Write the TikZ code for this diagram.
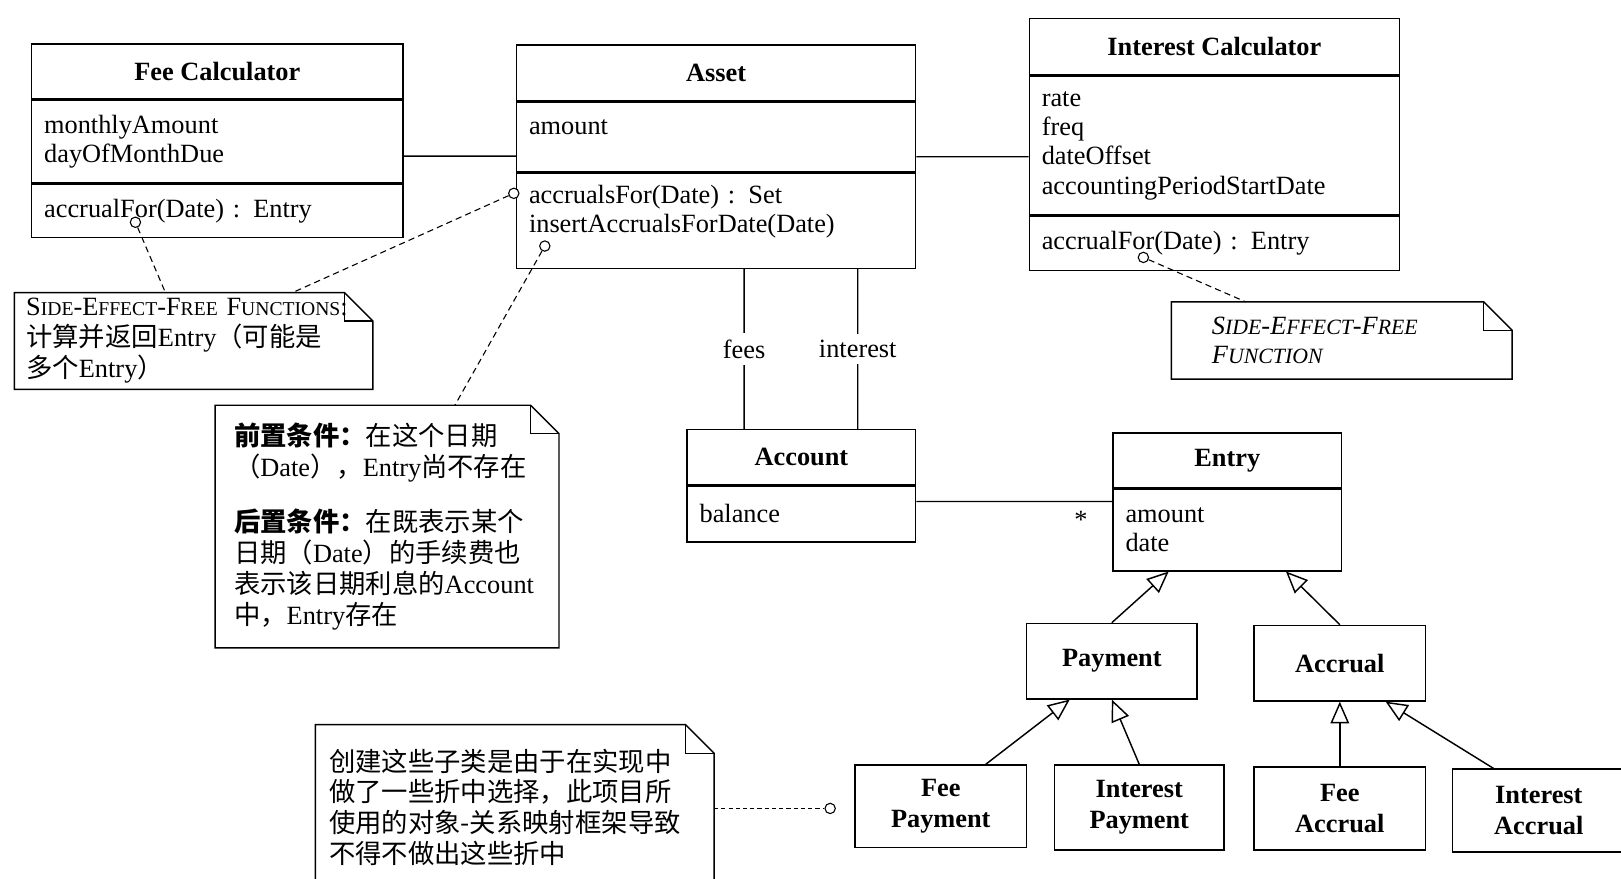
\documentclass[tikz,border=0pt]{standalone}
\usepackage{fontspec}
\setmainfont{Liberation Serif}
\newfontfamily\cjk{Noto Sans CJK SC}
\usetikzlibrary{arrows.meta,positioning,calc}
\newcommand{\zh}[1]{{\cjk #1}}
\newcommand{\smc}[2][10.8]{{\fontsize{#1}{12}\selectfont #2}}

\begin{document}
\begin{tikzpicture}[x=0.2mm,y=-0.2mm,
  font=\fontsize{14.5}{16}\selectfont,
  cbox/.style={draw, line width=0.8pt, inner xsep=2.4mm, inner ysep=0pt},
  ctitle/.style={cbox, font=\fontsize{14.5}{16}\selectfont\bfseries, minimum width=#1},
  cpart/.style={cbox, align=left, text width=#1},
  sub/.style={draw, line width=0.8pt, font=\fontsize{14.5}{16.8}\selectfont\bfseries,
              align=center, minimum width=33.2mm, minimum height=16mm},
  note/.style={inner sep=0pt, align=left, font=\fontsize{14.5}{17}\selectfont},
  hole/.style={draw, circle, fill=white, line width=0.6pt, minimum size=2mm, inner sep=0pt},
  anno/.style={line width=0.6pt, dash pattern=on 1.2mm off 0.8mm},
  assoc/.style={line width=0.8pt},
  isa/.style={line width=0.8pt, -{Triangle[open, length=4.2mm, width=3.6mm]}}]

  \path[use as bounding box, fill=white] (0,0) rectangle (1568,850);

  % classes
  \node[ctitle=71.8mm, minimum height=10.6mm, anchor=north west] (fee) at (30,42) {Fee Calculator};
  \node[cpart=67mm, minimum height=16mm, below=0pt of fee] (fee-a) {monthlyAmount\\dayOfMonthDue};
  \node[cpart=67mm, minimum height=10.2mm, below=0pt of fee-a] (fee-o) {accrualFor(Date) : Entry};

  \node[ctitle=77.2mm, minimum height=10.8mm, anchor=north west] (asset) at (499,43) {Asset};
  \node[cpart=72.4mm, minimum height=13.4mm, text depth=10.8pt, below=0pt of asset] (asset-a) {amount};
  \node[cpart=72.4mm, minimum height=18.4mm, text depth=29pt, below=0pt of asset-a] (asset-o)
       {accrualsFor(Date) : Set\\insertAccrualsForDate(Date)};

  \node[ctitle=71.6mm, minimum height=11mm, anchor=north west] (intc) at (995,17) {Interest Calculator};
  \node[cpart=66.8mm, minimum height=26.8mm, below=0pt of intc] (intc-a)
       {rate\\freq\\dateOffset\\accountingPeriodStartDate};
  \node[cpart=66.8mm, minimum height=10.4mm, below=0pt of intc-a] (intc-o) {accrualFor(Date) : Entry};

  \node[ctitle=44.2mm, minimum height=10.6mm, anchor=north west] (acct) at (664,415) {Account};
  \node[cpart=39.4mm, minimum height=10.8mm, below=0pt of acct] (acct-a) {balance};

  \node[ctitle=44.2mm, minimum height=10.6mm, anchor=north west] (entry) at (1076,418) {Entry};
  \node[cpart=39.4mm, minimum height=15.8mm, below=0pt of entry] (entry-a) {amount\\date};

  \node[sub, minimum width=33mm, minimum height=14.6mm] (pay) at (1075.5,639.5) {Payment};
  \node[sub, minimum height=14.6mm] (accr) at (1296,641.5) {Accrual};
  \node[sub] (feepay) at (910,780) {Fee\\Payment};
  \node[sub, minimum width=32.8mm, minimum height=16.4mm] (intpay) at (1102,781) {Interest\\Payment};
  \node[sub] (feeacc) at (1296,782) {Fee\\Accrual};
  \node[sub, minimum width=33.4mm] (intacc) at (1488.5,784) {Interest\\Accrual};

  % associations
  \draw[assoc] ($(fee-a.east)+(0,14)$) -- ($(asset-a.west)+(0,18.5)$);
  \draw[assoc] ($(asset-a.east)+(0,19)$) -- ($(intc-a.west)+(0,10.5)$);
  \draw[assoc] ($(asset-o.south)+(27,0)$) --
        node[fill=white, inner xsep=1pt, inner ysep=1.2mm] {fees} ($(acct.north)+(-55.5,0)$);
  \draw[assoc] ($(asset-o.south)+(137,0)$) --
        node[fill=white, inner xsep=1pt, inner ysep=1.2mm] {interest} ($(acct.north)+(54.5,0)$);
  \draw[assoc] ($(acct-a.east)+(0,-12)$) --
        node[pos=0.84, below=1.4mm, inner sep=1pt] {*} ($(entry-a.west)+(0,-27.5)$);

  % generalisation
  \draw[isa] (pay.north) -- ($(entry-a.south west)!0.245!(entry-a.south east)$);
  \draw[isa] (accr.north) -- ($(entry-a.south west)!0.755!(entry-a.south east)$);
  \draw[isa] ($(feepay.north west)!0.76!(feepay.north east)$) -- ($(pay.south west)!0.255!(pay.south east)$);
  \draw[isa] (intpay.north) -- (pay.south);
  \draw[isa] (feeacc.north) -- (accr.south);
  \draw[isa] ($(intacc.north west)!0.24!(intacc.north east)$) -- ($(accr.south west)!0.765!(accr.south east)$);

  % notes
  \node[note, anchor=north west, minimum width=69.2mm, minimum height=18.6mm, text width=64.8mm] (sefL) at (14,283)
       {S\smc{IDE}-E\smc{FFECT}-F\smc{REE} F\smc{UNCTIONS}:\\
        \zh{计算并返回}Entry\zh{（可能是}\\
        \zh{多个}Entry\zh{）}};
  \node[note, anchor=north west, minimum width=66.4mm, minimum height=46.8mm, text width=59.2mm] (preN) at (208,392)
       {\zh{\bfseries 前置条件：}\zh{在这个日期}\\
        \zh{（}Date\zh{），}Entry\zh{尚不存在}\\[4.6mm]
        \zh{\bfseries 后置条件：}\zh{在既表示某个}\\
        \zh{日期（}Date\zh{）的手续费也}\\
        \zh{表示该日期利息的}Account\\
        \zh{中，}Entry\zh{存在}};
  \node[note, anchor=north west, minimum width=65.8mm, minimum height=14.8mm, text width=50.2mm,
        font=\fontsize{14.5}{16.4}\selectfont\itshape] (sefR) at (1133,292)
       {S\smc[12]{IDE}-E\smc[12]{FFECT}-F\smc[12]{REE}\\F\smc[12]{UNCTION}};
  \node[note, anchor=north west, minimum width=77mm, minimum height=31.8mm, text width=71.8mm] (ormN) at (305,701)
       {\zh{创建这些子类是由于在实现中}\\
        \zh{做了一些折中选择，此项目所}\\
        \zh{使用的对象-关系映射框架导致}\\
        \zh{不得不做出这些折中}};
  \foreach \n in {sefL,preN,sefR,ormN}{
    \draw[line width=0.8pt] (\n.north west) -- ([xshift=-5.5mm]\n.north east) -- ([yshift=-5.5mm]\n.north east)
          -- (\n.south east) -- (\n.south west) -- cycle;
    \draw[line width=0.6pt] ([xshift=-5.5mm]\n.north east) |- ([yshift=-5.5mm]\n.north east);}

  % note anchors
  \node[hole] (h-fee) at (131,215) {};
  \node[hole] (h-acc) at (497,187) {};
  \node[hole] (h-ins) at (527,238) {};
  \node[hole] (h-int) at (1106,249) {};
  \node[hole] (h-orm) at (803,782) {};
  \draw[anno] (h-fee) -- ($(sefL.north west)+(146,0)$);
  \draw[anno] (h-acc) -- ($(sefL.north west)+(269,0)$);
  \draw[anno] (h-ins) -- ($(preN.north west)+(232,0)$);
  \draw[anno] (h-int) -- ($(sefR.north west)+(72,0)$);
  \draw[anno, dash pattern=on 0.8mm off 0.6mm] (ormN.east |- h-orm) -- (h-orm);
\end{tikzpicture}
\end{document}
